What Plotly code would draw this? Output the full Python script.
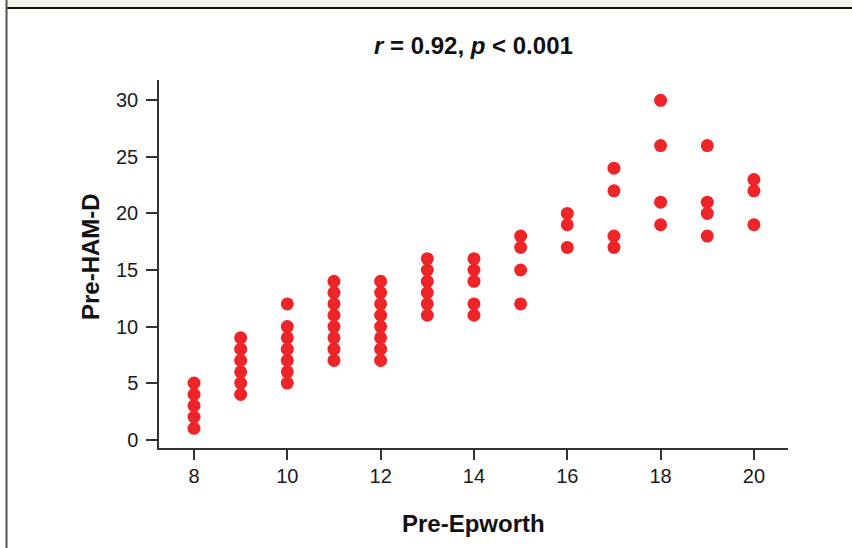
import plotly.graph_objects as go

# Pre-Epworth values (x) and Pre-HAM-D values (y)
x_8 = [8, 8, 8, 8, 8]
y_8 = [1, 2, 3, 4, 5]
x_9 = [9, 9, 9, 9, 9, 9]
y_9 = [4, 5, 6, 7, 8, 9]
x_10 = [10, 10, 10, 10, 10, 10, 10]
y_10 = [5, 6, 7, 8, 9, 10, 12]
x_11 = [11, 11, 11, 11, 11, 11, 11, 11]
y_11 = [7, 8, 9, 10, 11, 12, 13, 14]
x_12 = [12, 12, 12, 12, 12, 12, 12, 12]
y_12 = [7, 8, 9, 10, 11, 12, 13, 14]
x_13 = [13, 13, 13, 13, 13, 13]
y_13 = [11, 12, 13, 14, 15, 16]
x_14 = [14, 14, 14, 14, 14]
y_14 = [11, 12, 14, 15, 16]
x_15 = [15, 15, 15, 15]
y_15 = [12, 15, 17, 18]
x_16 = [16, 16, 16]
y_16 = [17, 19, 20]
x_17 = [17, 17, 17, 17]
y_17 = [17, 18, 22, 24]
x_18 = [18, 18, 18, 18]
y_18 = [19, 21, 26, 30]
x_19 = [19, 19, 19, 19]
y_19 = [18, 20, 21, 26]
x_20 = [20, 20, 20]
y_20 = [19, 22, 23]

pre_epworth = x_8 + x_9 + x_10 + x_11 + x_12 + x_13 + x_14 + x_15 + x_16 + x_17 + x_18 + x_19 + x_20
pre_hamd = y_8 + y_9 + y_10 + y_11 + y_12 + y_13 + y_14 + y_15 + y_16 + y_17 + y_18 + y_19 + y_20

x_ticks = [8, 10, 12, 14, 16, 18, 20]
y_ticks = [0, 5, 10, 15, 20, 25, 30]

FONT = "Liberation Sans, Arial, sans-serif"
W, H = 852, 548
L, R, T, B = 159, 64, 80, 100

fig = go.Figure()
fig.add_trace(go.Scatter(
    x=pre_epworth, y=pre_hamd, mode="markers",
    marker=dict(color="#ED2428", size=13, line=dict(width=0)),
    hoverinfo="x+y", showlegend=False,
))

pw = W - L - R
ph = H - T - B

def px_x(p):
    return (p - L) / pw

def px_y(p):
    return (H - B - p) / ph

fig.update_layout(
    width=W, height=H,
    margin=dict(l=L, r=R, t=T, b=B, pad=0),
    paper_bgcolor="white", plot_bgcolor="white",
    font=dict(family=FONT, color="#1a1a1a"),
    xaxis=dict(
        range=[7.25, 20.73], tickvals=x_ticks, ticktext=[str(v) for v in x_ticks],
        showgrid=False, zeroline=False, showline=True, linecolor="#333333", linewidth=1.5,
        ticks="outside", ticklen=10, tickwidth=1.5, tickcolor="#333333",
        ticklabelstandoff=-1,
        tickfont=dict(size=20, family=FONT, color="#1a1a1a"),
    ),
    yaxis=dict(
        range=[-0.74, 31.8], tickvals=y_ticks, ticktext=[str(v) for v in y_ticks],
        showgrid=False, zeroline=False, showline=True, linecolor="#333333", linewidth=1.5,
        ticks="outside", ticklen=11, tickwidth=1.5, tickcolor="#333333",
        ticklabelstandoff=4,
        tickfont=dict(size=20, family=FONT, color="#1a1a1a"),
    ),
    shapes=[
        dict(type="rect", xref="paper", yref="paper", x0=px_x(7), x1=px_x(852), y0=px_y(7), y1=px_y(0),
             fillcolor="#F3F2EA", line=dict(width=0), layer="above"),
        dict(type="line", xref="paper", yref="paper", x0=px_x(7), x1=px_x(852), y0=px_y(8), y1=px_y(8),
             line=dict(color="#111111", width=2)),
        dict(type="line", xref="paper", yref="paper", x0=px_x(6.5), x1=px_x(6.5), y0=px_y(0), y1=px_y(548),
             line=dict(color="#555555", width=2)),
    ],
    annotations=[
        dict(text="<b><i>r</i> = 0.92, <i>p</i> &lt; 0.001</b>", xref="paper", yref="paper",
             x=px_x(473), y=px_y(45), xanchor="center", yanchor="middle", showarrow=False,
             font=dict(size=24, family=FONT, color="#111111")),
        dict(text="<b>Pre-Epworth</b>", xref="paper", yref="paper",
             x=px_x(473), y=px_y(523), xanchor="center", yanchor="middle", showarrow=False,
             font=dict(size=24, family=FONT, color="#111111")),
        dict(text="<b>Pre-HAM-D</b>", xref="paper", yref="paper", textangle=-90,
             x=px_x(90), y=px_y(257), xanchor="center", yanchor="middle", showarrow=False,
             font=dict(size=24, family=FONT, color="#111111")),
    ],
)

fig.write_html(
    "out.html",
    config={"displayModeBar": False},
    post_script="document.body.style.margin='0';document.body.style.overflow='hidden';",
)
